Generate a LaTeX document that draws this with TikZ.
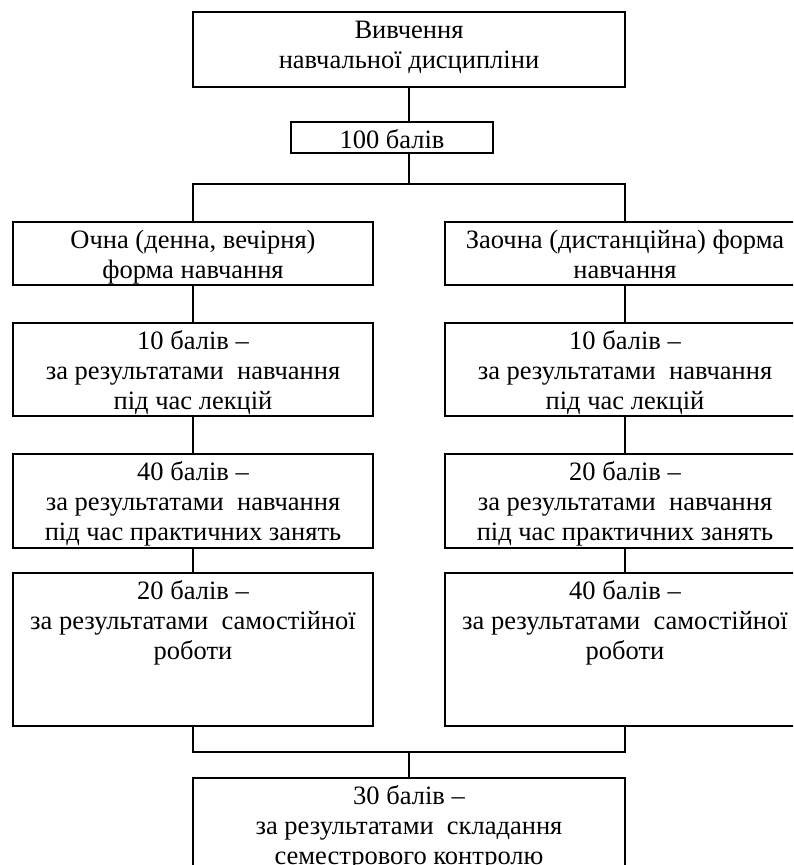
\documentclass[tikz,border=0pt]{standalone}
\usepackage{fontspec}
\setmainfont{Liberation Serif}
\newcommand\bx[3]{\parbox[c][#2pt][t]{#1pt}{\centering\rule{0pt}{26pt}#3}}

\begin{document}
\begin{tikzpicture}[x=1pt,y=-1pt,line width=2pt]
    \tikzstyle{box}=[draw=black, rectangle, inner sep=0pt, outer sep=0pt, anchor=north west, font=\fontsize{26.5}{30}\selectfont]
    \useasboundingbox (0,0) rectangle (793,865);
    \clip (0,0) rectangle (793,865);

    \node[box] (top) at (193,12)  {\bx{432}{75}{Вивчення\\навчальної дисципліни}};
    \node[box] (pts) at (291,122) {\bx{202}{31}{100 балів}};
    \node[box] (fl)  at (13,222)  {\bx{360}{63}{Очна (денна, вечірня)\\форма навчання}};
    \node[box] (fr)  at (445,222) {\bx{360}{63}{Заочна (дистанційна) форма\\навчання}};
    \node[box] (l1)  at (13,323)  {\bx{360}{93}{10 балів –\\за результатами~ навчання\\під час лекцій}};
    \node[box] (r1)  at (445,323) {\bx{360}{93}{10 балів –\\за результатами~ навчання\\під час лекцій}};
    \node[box] (l2)  at (13,454)  {\bx{360}{94}{40 балів –\\за результатами~ навчання\\під час практичних занять}};
    \node[box] (r2)  at (445,454) {\bx{360}{94}{20 балів –\\за результатами~ навчання\\під час практичних занять}};
    \node[box] (l3)  at (13,573)  {\bx{360}{153}{20 балів –\\за результатами~ самостійної\\роботи}};
    \node[box] (r3)  at (445,573) {\bx{360}{153}{40 балів –\\за результатами~ самостійної\\роботи}};
    \node[box] (ex)  at (193,778) {\bx{432}{100}{30 балів –\\за результатами~ складання\\семестрового контролю}};

    \coordinate (jt) at (409,184);
    \coordinate (jb) at (409,752);
    \draw (top.south) -- (top.south |- pts.north);
    \draw (top.south |- pts.south) -- (jt);
    \draw (fl.north) |- (jt) -| (fr.north);
    \path
     (fl) edge[] (l1)
     (l1) edge[] (l2)
     (l2) edge[] (l3)
     (fr) edge[] (r1)
     (r1) edge[] (r2)
     (r2) edge[] (r3)
     ;
    \draw (l3.south) |- (jb) -| (r3.south);
    \draw (jb) -- (ex.north);
\end{tikzpicture}
\end{document}
